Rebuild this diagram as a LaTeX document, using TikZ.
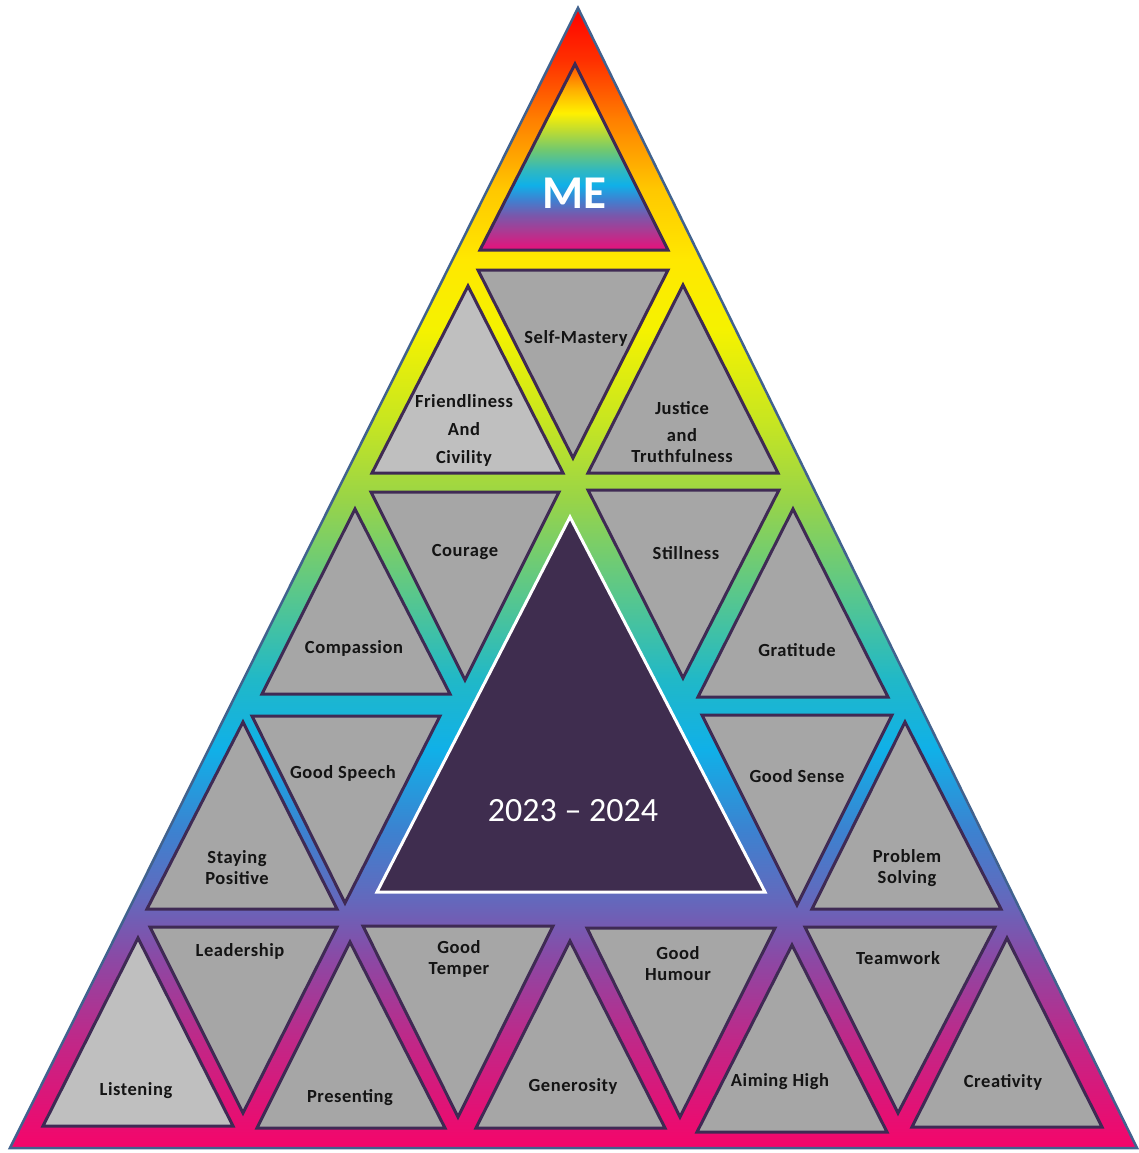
\documentclass[tikz,border=0pt]{standalone}
\usepackage{fontspec}
\setmainfont{Carlito}
\definecolor{r01}{HTML}{F5056A}
\definecolor{r02}{HTML}{C02888}
\definecolor{r03}{HTML}{8C48A4}
\definecolor{r04}{HTML}{6468BC}
\definecolor{r05}{HTML}{3C82D0}
\definecolor{r06}{HTML}{10B0E8}
\definecolor{r07}{HTML}{20B8C8}
\definecolor{r08}{HTML}{55C690}
\definecolor{r09}{HTML}{98D448}
\definecolor{r10}{HTML}{C8E620}
\definecolor{r11}{HTML}{F5F200}
\definecolor{r12}{HTML}{FFE800}
\definecolor{r13}{HTML}{FFC800}
\definecolor{r14}{HTML}{FF8000}
\definecolor{r15}{HTML}{FF3000}
\definecolor{r16}{HTML}{FF0000}
\definecolor{m01}{HTML}{E8107A}
\definecolor{m02}{HTML}{A83C94}
\definecolor{m03}{HTML}{7858AC}
\definecolor{m04}{HTML}{4080D0}
\definecolor{m05}{HTML}{10B0E8}
\definecolor{m06}{HTML}{30B8C0}
\definecolor{m07}{HTML}{70C870}
\definecolor{m08}{HTML}{C0DC30}
\definecolor{m09}{HTML}{FFF000}
\definecolor{m10}{HTML}{FFB000}
\definecolor{m11}{HTML}{FF5000}
\definecolor{outline}{HTML}{41628E}
\definecolor{tri}{HTML}{3F2A54}
\definecolor{grayA}{HTML}{A6A6A6}
\definecolor{grayB}{HTML}{BFBFBF}
\definecolor{centre}{HTML}{3F2D4F}
\definecolor{txt}{HTML}{141414}
\pgfdeclareverticalshading{rainbow}{100bp}{color(0bp)=(r01); color(25bp)=(r01); color(29.74bp)=(r02); color(33.25bp)=(r03); color(35.88bp)=(r04); color(38.95bp)=(r05); color(42.46bp)=(r06); color(45.53bp)=(r07); color(49.04bp)=(r08); color(53.42bp)=(r09); color(56.93bp)=(r10); color(60.88bp)=(r11); color(63.95bp)=(r12); color(67.02bp)=(r13); color(70.09bp)=(r14); color(72.72bp)=(r15); color(75bp)=(r16); color(100bp)=(r16)}
\pgfdeclareverticalshading{merainbow}{100bp}{color(0bp)=(m01); color(25bp)=(m01); color(30.38bp)=(m02); color(34.41bp)=(m03); color(38.44bp)=(m04); color(42.47bp)=(m05); color(46.51bp)=(m06); color(51.88bp)=(m07); color(57.26bp)=(m08); color(61.83bp)=(m09); color(68.01bp)=(m10); color(75bp)=(m11); color(100bp)=(m11)}
\newfontfamily\lblfont[LetterSpace=3]{Carlito}
\tikzset{
  cell/.style={draw=tri, line width=3pt, fill=grayA, line join=miter},
  lightcell/.style={cell, fill=grayB},
  lbl/.style={font=\lblfont\fontsize{18.5}{21}\selectfont\bfseries, text=txt, align=center, inner sep=0pt},
}
\begin{document}
\begin{tikzpicture}[x=1pt,y=-1pt]
\useasboundingbox (0,0) rectangle (1139,1153);
% outer triangle
\shade[shading=rainbow] (578,8) -- (1137,1148) -- (10,1148) -- cycle;
\draw[outline, line width=2.5pt, line join=miter] (578,8) -- (1137,1148) -- (10,1148) -- cycle;
% ME triangle
\shade[shading=merainbow] (575,64) -- (668,250) -- (480,250) -- cycle;
\draw[tri, line width=3pt] (575,64) -- (668,250) -- (480,250) -- cycle;
% row 1
\draw[cell] (478,270) -- (668,270) -- (573,458) -- cycle;
\draw[lightcell] (468,286) -- (563,473) -- (372,473) -- cycle;
\draw[cell] (683,285) -- (778,473) -- (588,473) -- cycle;
% row 2
\draw[cell] (371,492) -- (559,492) -- (465,680) -- cycle;
\draw[cell] (588,490) -- (779,490) -- (683,678) -- cycle;
\draw[cell] (355,509) -- (450,694) -- (262,694) -- cycle;
\draw[cell] (793,509) -- (888,697) -- (698,697) -- cycle;
% centre
\draw[fill=centre, draw=white, line width=3pt] (570,517) -- (765,892) -- (377,892) -- cycle;
% row 3
\draw[cell] (252,716) -- (440,716) -- (345,903) -- cycle;
\draw[cell] (243,722) -- (337,909) -- (147,909) -- cycle;
\draw[cell] (702,715) -- (892,715) -- (797,905) -- cycle;
\draw[cell] (905,722) -- (1001,909) -- (812,909) -- cycle;
% row 4
\draw[cell] (150,927) -- (337,927) -- (243,1113) -- cycle;
\draw[lightcell] (138,938) -- (233,1126) -- (43,1126) -- cycle;
\draw[cell] (350,942) -- (445,1128) -- (257,1128) -- cycle;
\draw[cell] (363,926) -- (553,926) -- (458,1117) -- cycle;
\draw[cell] (570,941) -- (665,1128) -- (476,1128) -- cycle;
\draw[cell] (587,928) -- (775,928) -- (680,1117) -- cycle;
\draw[cell] (792,945) -- (887,1132) -- (697,1132) -- cycle;
\draw[cell] (805,927) -- (995,927) -- (898,1113) -- cycle;
\draw[cell] (1007,938) -- (1102,1127) -- (912,1127) -- cycle;
% labels
\node[font=\fontsize{47}{50}\selectfont\bfseries, text=white, inner sep=0pt] (me) at (574,193) {ME};
\node[font=\fontsize{34}{38}\selectfont, text=white, inner sep=0pt] (years) at (573,811) {2023 \textendash\ 2024};
\node[lbl] (selfmastery) at (576,338) {Self-Mastery};
\node[lbl, font=\lblfont\fontsize{18.5}{28}\selectfont\bfseries] (friend) at (464,430) {Friendliness\\And\\Civility};
\node[lbl, font=\lblfont\fontsize{18.5}{27}\selectfont\bfseries] (justice) at (682,432) {Justice\\and\\[-6pt]Truthfulness};
\node[lbl] (courage) at (465,552) {Courage};
\node[lbl] (stillness) at (686,553) {Stillness};
\node[lbl] (compassion) at (354,648) {Compassion};
\node[lbl] (gratitude) at (797,650) {Gratitude};
\node[lbl] (goodspeech) at (343,773) {Good Speech};
\node[lbl] (goodsense) at (797,776) {Good Sense};
\node[lbl] (staying) at (237,868) {Staying\\Positive};
\node[lbl] (problem) at (907,868) {Problem\\Solving};
\node[lbl] (leadership) at (240,951) {Leadership};
\node[lbl] (temper) at (459,959) {Good\\Temper};
\node[lbl] (humour) at (678,964) {Good\\Humour};
\node[lbl] (teamwork) at (898,958) {Teamwork};
\node[lbl] (listening) at (136,1091) {Listening};
\node[lbl] (presenting) at (350,1098) {Presenting};
\node[lbl] (generosity) at (573,1086) {Generosity};
\node[lbl] (aiming) at (780,1082) {Aiming High};
\node[lbl] (creativity) at (1003,1082) {Creativity};
\end{tikzpicture}
\end{document}
